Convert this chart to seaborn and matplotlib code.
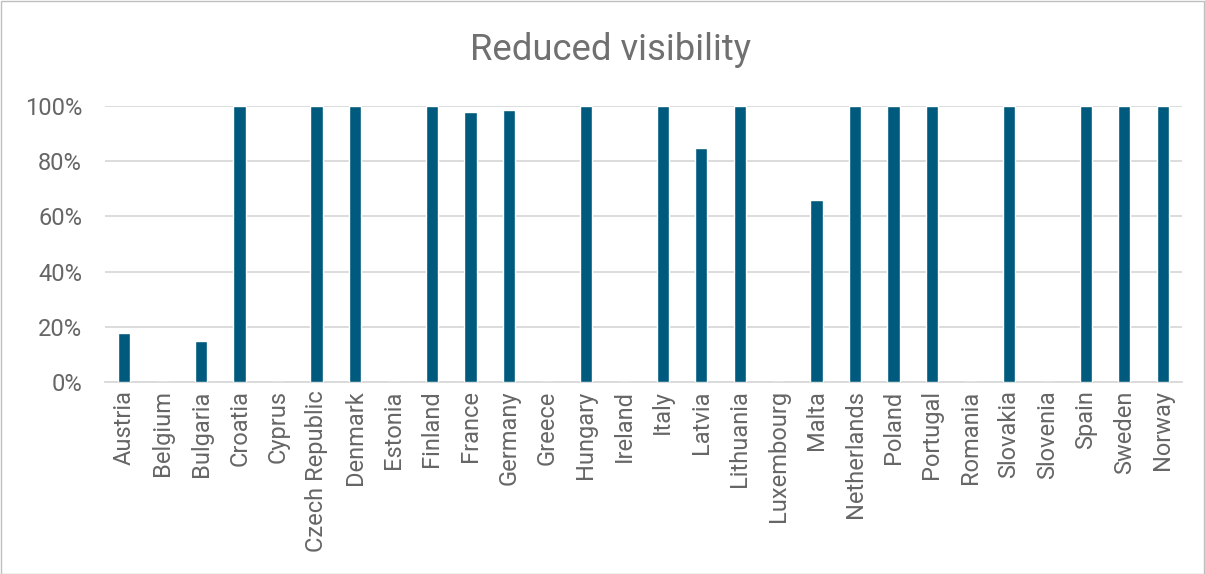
import matplotlib
matplotlib.use("Agg")
import matplotlib.pyplot as plt
import seaborn as sns
import pandas as pd
from matplotlib.ticker import PercentFormatter, MultipleLocator
from matplotlib.patches import Rectangle

countries = ["Austria", "Belgium", "Bulgaria", "Croatia", "Cyprus", "Czech Republic",
             "Denmark", "Estonia", "Finland", "France", "Germany", "Greece", "Hungary",
             "Ireland", "Italy", "Latvia", "Lithuania", "Luxembourg", "Malta",
             "Netherlands", "Poland", "Portugal", "Romania", "Slovakia", "Slovenia",
             "Spain", "Sweden", "Norway"]
share = [17.8, 0, 14.8, 100, 0, 100,
         100, 0, 100, 97.9, 98.4, 0, 100,
         0, 100, 84.8, 100, 0, 65.8,
         100, 100, 100, 0, 100, 0,
         100, 100, 100]

df = pd.DataFrame({"country": countries, "share": share})

sns.set_theme(style="white")
plt.rcParams["font.family"] = ["Roboto", "DejaVu Sans"]

W, H = 1205, 574
fig = plt.figure(figsize=(W / 100, H / 100), dpi=100)
ax = fig.add_axes([105 / W, (H - 382) / H, 1077 / W, 276 / H])

sns.barplot(data=df, x="country", y="share", color="#005A7D", width=0.32,
            saturation=1, ax=ax, zorder=3)

ax.set_ylim(0, 100)
ax.set_xlim(-0.5, len(countries) - 0.5)
ax.yaxis.set_major_locator(MultipleLocator(20))
ax.yaxis.set_major_formatter(PercentFormatter(decimals=0))
ax.grid(axis="y", color="#D9D9D9", linewidth=1.3, zorder=0)
ax.set_axisbelow(True)
for s in ["top", "right", "left"]:
    ax.spines[s].set_visible(False)
ax.spines["bottom"].set_color("#D9D9D9")
ax.spines["bottom"].set_linewidth(1.3)
ax.set_xlabel("")
ax.set_ylabel("")
ax.tick_params(axis="x", labelrotation=90, labelsize=17, colors="#666666", length=0, pad=6)
ax.tick_params(axis="y", labelsize=17, colors="#666666", length=0, pad=16.5)
for lbl in ax.get_yticklabels():
    lbl.set_horizontalalignment("right")

fig.text(610 / W, 1 - 60 / H, "Reduced visibility", ha="center", va="baseline",
         fontsize=26.3, color="#707070")

fig.patches.append(Rectangle((0.5 / W, 0.5 / H), 1 - 1.5 / W, 1 - 1.5 / H,
                             transform=fig.transFigure, fill=False,
                             edgecolor="#BFBFBF", linewidth=1))

fig.savefig("out.png", dpi=100)
